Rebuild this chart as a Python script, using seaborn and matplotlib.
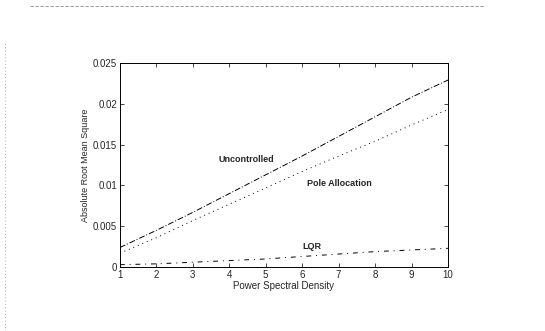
import matplotlib
matplotlib.use("Agg")
import matplotlib.pyplot as plt
import seaborn as sns
import pandas as pd
from matplotlib.lines import Line2D

psd = [1, 2, 3, 4, 5, 6, 7, 8, 9, 10]
uncontrolled = [0.0024, 0.0045, 0.0067, 0.0090, 0.0113, 0.0136, 0.0160, 0.0184, 0.0208, 0.0229]
pole_allocation = [0.0017, 0.0036, 0.0057, 0.0077, 0.0097, 0.0117, 0.0136, 0.0154, 0.0174, 0.0193]
lqr = [0.0003, 0.0004, 0.0006, 0.0008, 0.0010, 0.0013, 0.0016, 0.0019, 0.0021, 0.0023]
x_ticks = [1, 2, 3, 4, 5, 6, 7, 8, 9, 10]
y_ticks = [0, 0.005, 0.01, 0.015, 0.02, 0.025]
y_tick_labels = ["0", "0.005", "0.01", "0.015", "0.02", "0.025"]

sns.set_style("white")
plt.rcParams["font.family"] = ["Liberation Sans", "DejaVu Sans"]

df = pd.DataFrame({
    "psd": psd * 3,
    "rms": uncontrolled + pole_allocation + lqr,
    "series": ["Uncontrolled"] * 10 + ["Pole Allocation"] * 10 + ["LQR"] * 10,
})

fig = plt.figure(figsize=(5.45, 3.31), dpi=100)
ax = fig.add_axes([0.220, 0.193, 0.602, 0.617])

styles = {
    "Uncontrolled": (0, (6, 2, 1, 2)),
    "Pole Allocation": (0, (1, 4)),
    "LQR": (0, (5, 5, 1, 5)),
}
for name, ls in styles.items():
    sub = df[df["series"] == name]
    sns.lineplot(data=sub, x="psd", y="rms", ax=ax, color="black",
                 linewidth=0.7, linestyle=ls, legend=False)

ax.set_xlim(1, 10)
ax.set_ylim(0, 0.025)
ax.set_xticks(x_ticks)
ax.set_xticklabels([str(t) for t in x_ticks])
ax.set_yticks(y_ticks)
ax.set_yticklabels(y_tick_labels)
ax.tick_params(direction="in", length=3, labelsize=7, top=True, right=True,
               bottom=True, left=True, width=0.6, pad=2)
for s in ax.spines.values():
    s.set_linewidth(0.7)
    s.set_color("black")
    s.set_visible(True)
ax.set_xlabel("Power Spectral Density", fontsize=7, labelpad=1)
ax.set_ylabel("Absolute Root Mean Square", fontsize=6.5, labelpad=2)

ax.text(4.47, 0.0132, "Uncontrolled", fontsize=6.5, fontweight="bold",
        ha="center", va="center")
ax.text(7.01, 0.0102, "Pole Allocation", fontsize=6.5, fontweight="bold",
        ha="center", va="center")
ax.text(6.27, 0.0025, "LQR", fontsize=6.5, fontweight="bold",
        ha="center", va="center")

# scan frame remnants
fig.add_artist(Line2D([0.055, 0.89], [0.982, 0.982], transform=fig.transFigure,
                      color="#888888", linewidth=0.6, linestyle=(0, (4, 2))))
fig.add_artist(Line2D([0.009, 0.009], [0.0, 0.87], transform=fig.transFigure,
                      color="#999999", linewidth=0.6, linestyle=(0, (1, 3))))

fig.savefig("out.png", dpi=100, facecolor="white")
